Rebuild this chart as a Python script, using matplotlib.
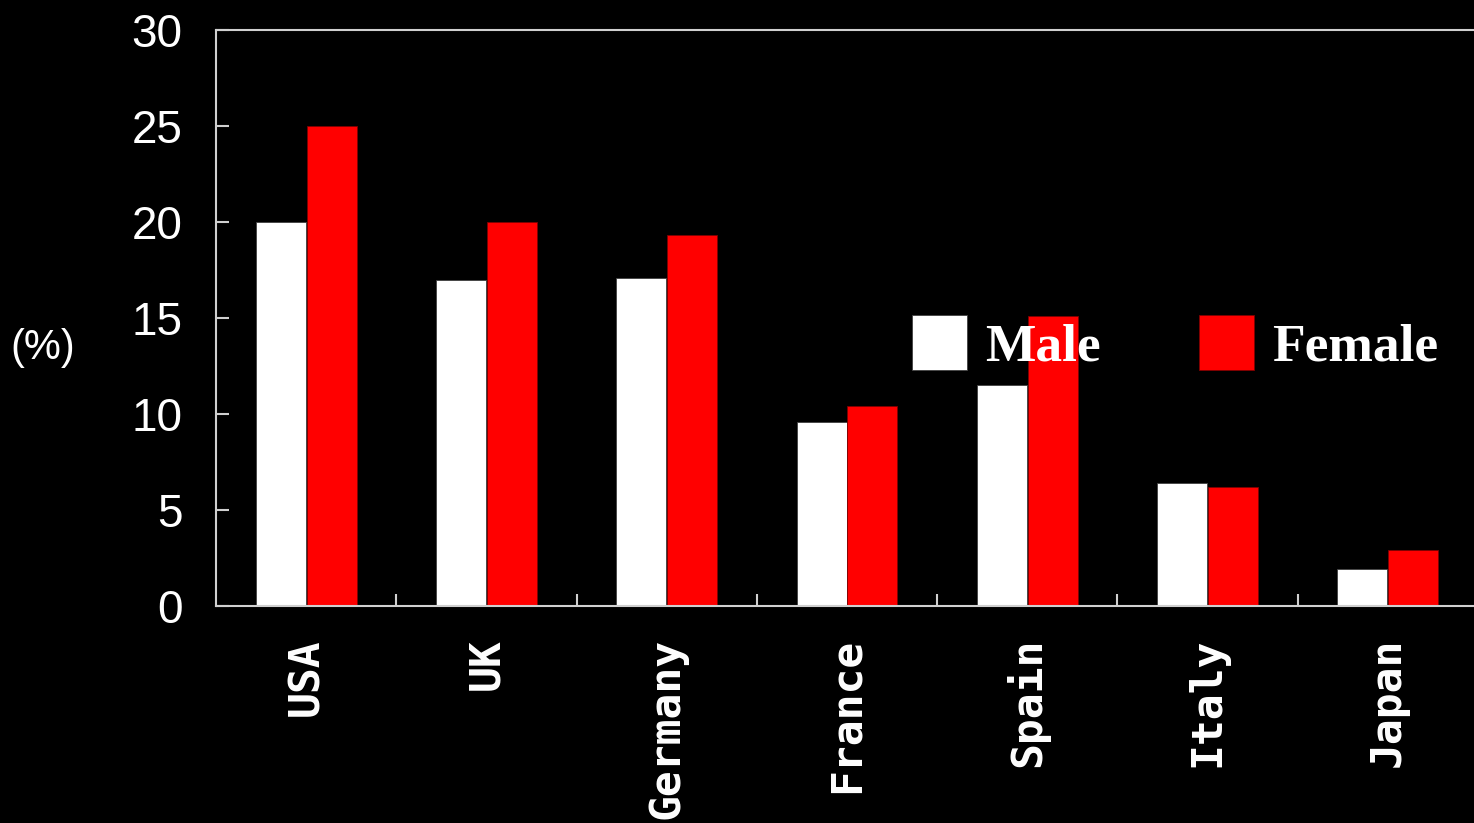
import matplotlib
matplotlib.use("Agg")
import matplotlib.pyplot as plt
import numpy as np

countries = ["USA", "UK", "Germany", "France", "Spain", "Italy", "Japan"]
male = [20.0, 17.0, 17.1, 9.6, 11.5, 6.4, 1.95]
female = [25.0, 20.0, 19.3, 10.4, 15.1, 6.2, 2.9]
yticks = [0, 5, 10, 15, 20, 25, 30]

W, H = 1474, 823
fig = plt.figure(figsize=(W / 100, H / 100), dpi=100, facecolor="black")
ax = fig.add_axes([216 / W, (H - 606) / H, 1262 / W, 576 / H])
ax.set_facecolor("black")

x = np.arange(len(countries))
bw = 0.277
ax.bar(x - 0.141, male, width=bw, color="white", edgecolor="#404040", linewidth=0.6, label="Male", zorder=2)
ax.bar(x + 0.141, female, width=bw, color="#ff0000", edgecolor="#800000", linewidth=0.6, label="Female", zorder=2)

ax.set_xlim(-0.5, len(countries) - 0.5)
ax.set_ylim(0, 30)

spine_col = "#d0d0d0"
for s in ["left", "top", "bottom", "right"]:
    ax.spines[s].set_color(spine_col)
    ax.spines[s].set_linewidth(1.5)

ax.set_yticks(yticks)
ax.set_yticklabels([str(v) for v in yticks])
ax.tick_params(axis="y", direction="in", length=9, width=1.5, color=spine_col,
               pad=24, labelcolor="white", labelsize=33)
for lab in ax.get_yticklabels():
    lab.set_family("Liberation Sans")

ax.set_xticks(x)
ax.set_xticklabels(countries, rotation=90, va="top", ha="center")
ax.set_xticks(np.arange(len(countries)) + 0.5, minor=True)
ax.tick_params(axis="x", which="major", length=0, pad=23, labelcolor="white", labelsize=31)
ax.tick_params(axis="x", which="minor", direction="in", length=9, width=1.5, color=spine_col)
for lab in ax.get_xticklabels():
    lab.set_family("DejaVu Sans Mono")
    lab.set_fontweight("bold")

ax.set_ylabel("(%)", rotation=0, color="white", fontsize=30,
              family="Liberation Sans", va="center", ha="center")
ax.yaxis.set_label_coords((43 - 216) / 1262, (606 - 348) / 576)

leg = ax.legend(loc="center left", bbox_to_anchor=(912 / W, 1 - 343 / H),
                bbox_transform=fig.transFigure, ncol=2, frameon=False,
                prop={"family": "Liberation Serif", "weight": "bold", "size": 38.5},
                handlelength=1.03, handleheight=1.2, handletextpad=0.33,
                columnspacing=1.85, borderpad=0, borderaxespad=0)
for t in leg.get_texts():
    t.set_color("white")
leg.set_zorder(5)

fig.savefig("out.png", dpi=100, facecolor="black")
